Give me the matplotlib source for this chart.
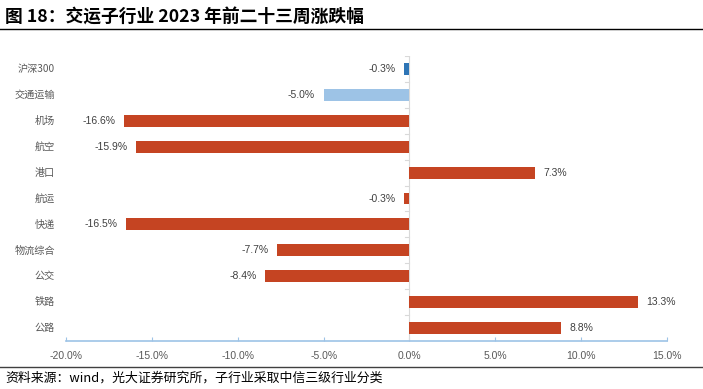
import matplotlib
matplotlib.use("Agg")
import matplotlib.pyplot as plt
from matplotlib.lines import Line2D
import matplotlib.transforms as mtransforms

plt.rcParams['font.family'] = ['Liberation Sans', 'Noto Sans CJK SC', 'DejaVu Sans']

categories = ["沪深300", "交通运输", "机场", "航空", "港口", "航运", "快递", "物流综合", "公交", "铁路", "公路"]
values = [-0.3, -5.0, -16.6, -15.9, 7.3, -0.3, -16.5, -7.7, -8.4, 13.3, 8.8]
colors = ["#2E75B6", "#9DC3E6"] + ["#C54422"] * 9
xticks = [-20, -15, -10, -5, 0, 5, 10, 15]

fig = plt.figure(figsize=(7.03, 3.89), dpi=100)
ax = fig.add_axes([0.0939, 0.1234, 0.855, 0.7326])

y = list(range(len(categories)))
ax.barh(y, values, height=0.46, color=colors, zorder=3)
ax.set_ylim(len(categories) - 0.5, -0.5)
ax.set_xlim(-20, 15)

for yi, v in zip(y, values):
    if v < 0:
        ax.text(v - 0.5, yi, f"{v:.1f}%", ha='right', va='center', fontsize=7.5, color='#404040')
    else:
        ax.text(v + 0.5, yi, f"{v:.1f}%", ha='left', va='center', fontsize=7.5, color='#404040')

ax.set_yticks(y)
ax.set_yticklabels([])
ax.tick_params(axis='y', length=0)
trans = mtransforms.blended_transform_factory(ax.transAxes, ax.transData)
for yi, c in zip(y, categories):
    ax.text(-0.018, yi, c, transform=trans, ha='right', va='center', fontsize=7.3,
            color='#595959', family=['Noto Sans CJK SC', 'DejaVu Sans'])

ax.set_xticks(xticks)
ax.set_xticklabels([f"{t:.1f}%" for t in xticks], fontsize=7.5, color='#595959')
ax.tick_params(axis='x', direction='in', length=3, color='#9DC3E6', pad=7)

for s in ['top', 'right', 'left']:
    ax.spines[s].set_visible(False)
ax.spines['bottom'].set_color('#9DC3E6')
ax.spines['bottom'].set_linewidth(1.2)

# zero line with small ticks
ax.axvline(0, color='#D9D9D9', lw=0.8, zorder=2)
for b in range(len(categories) + 1):
    ax.plot([-0.25, 0], [b - 0.5, b - 0.5], color='#D9D9D9', lw=0.8, zorder=2)

fig.text(0.007, 0.955, "图 18：交运子行业 2023 年前二十三周涨跌幅", family=['Noto Sans CJK SC', 'DejaVu Sans'],
         fontsize=12.8, fontweight='bold', ha='left', va='center', color='black')
fig.add_artist(Line2D([0.0, 1.0], [0.926, 0.926], color='black', lw=1.0, transform=fig.transFigure))
fig.add_artist(Line2D([0.0, 1.0], [0.056, 0.056], color='#404040', lw=1.0, transform=fig.transFigure))
fig.text(0.007, 0.028, "资料来源：wind，光大证券研究所，子行业采取中信三级行业分类", family=['Noto Sans CJK SC', 'DejaVu Sans'],
         fontsize=9.3, ha='left', va='center', color='black')

fig.savefig("out.png", dpi=100)
